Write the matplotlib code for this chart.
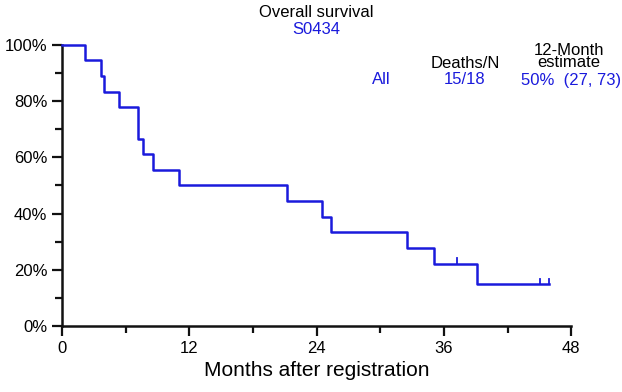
import numpy as np
import matplotlib.pyplot as plt

plt.rcParams['font.family'] = ['Liberation Sans', 'DejaVu Sans']

# Kaplan-Meier steps (months, survival)
event_times = [0, 2.2, 3.68, 3.99, 5.4, 7.14, 7.2, 7.6, 8.6, 11.0,
               21.25, 24.5, 25.35, 32.5, 35.06, 39.15]
surv = [1.0, 17/18, 16/18, 15/18, 14/18, 13/18, 12/18, 11/18, 10/18, 9/18,
        8/18, 7/18, 6/18, 5/18, 4/18, 4/18 * 2/3]
end_time = 45.9
censor_times = [37.26, 45.05, 45.87]

xticks = [0, 12, 24, 36, 48]
yticks = [0, 0.2, 0.4, 0.6, 0.8, 1.0]
ytick_labels = ["0%", "20%", "40%", "60%", "80%", "100%"]

blue = "#1a1adc"

fig = plt.figure(figsize=(6.22, 3.92), dpi=100)
ax = fig.add_axes([0.0997, 0.168, 0.8186, 0.718])

x = event_times + [end_time]
y = surv + [surv[-1]]
ax.step(x, y, where="post", color=blue, lw=1.8, clip_on=False, zorder=3)

# censoring marks
def surv_at(t):
    s = surv[0]
    for tt, ss in zip(event_times, surv):
        if tt <= t:
            s = ss
    return s

for t in censor_times:
    s = surv_at(t)
    ax.plot([t, t], [s, s + 0.02], color=blue, lw=1.3, clip_on=False)

ax.set_xlim(0, 48)
ax.set_ylim(0, 1)
ax.set_xticks(xticks)
ax.set_xticks([6, 18, 30, 42], minor=True)
ax.set_yticks(yticks)
ax.set_yticklabels(ytick_labels)
ax.set_yticks([0.1, 0.3, 0.5, 0.7, 0.9], minor=True)
ax.tick_params(axis="both", which="major", labelsize=12, width=1.6, length=7, color="#111111")
ax.tick_params(axis="both", which="minor", width=1.6, length=5, color="#111111")
ax.tick_params(axis="x", which="major", pad=4)

for side in ["top", "right"]:
    ax.spines[side].set_visible(False)
for side in ["left", "bottom"]:
    ax.spines[side].set_linewidth(1.8)
    ax.spines[side].set_color("#111111")

ax.set_xlabel("Months after registration", fontsize=15, labelpad=3)

# header texts
fs = 12
fig.text(316/622, 1 - 12.5/392, "Overall survival", ha="center", va="center", fontsize=fs)
fig.text(316/622, 1 - 29/392, "S0434", ha="center", va="center", fontsize=fs, color=blue)
fig.text(465/622, 1 - 63/392, "Deaths/N", ha="center", va="center", fontsize=fs)
fig.text(569/622, 1 - 56.5/392, "12-Month\nestimate", ha="center", va="center",
         multialignment="center", linespacing=0.82, fontsize=fs)
fig.text(381/622, 1 - 80/392, "All", ha="center", va="center", fontsize=fs, color=blue)
fig.text(465/622, 1 - 80/392, "15/18", ha="center", va="center", fontsize=fs, color=blue)
fig.text(571/622, 1 - 80/392, "50%  (27, 73)", ha="center", va="center", fontsize=fs, color=blue)

fig.savefig("out.png", dpi=100)
